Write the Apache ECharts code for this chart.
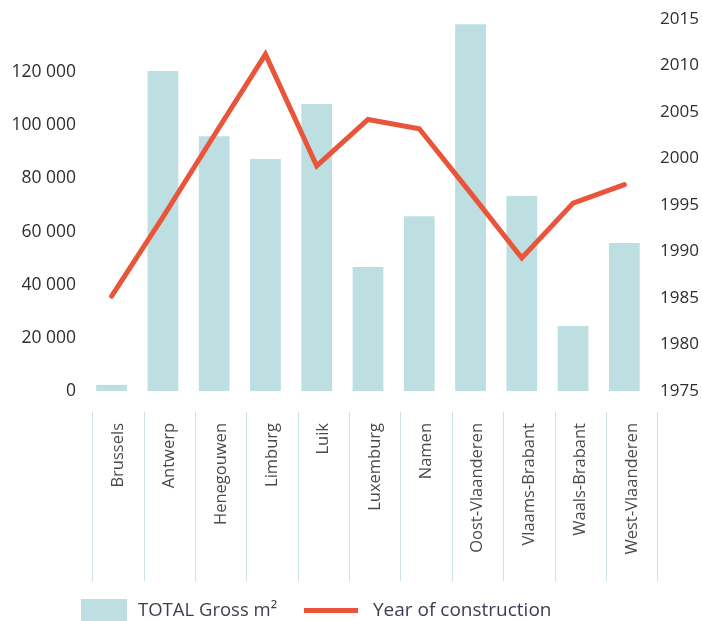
<!DOCTYPE html>
<html>
<head>
<meta charset="utf-8">
<script src="https://cdn.jsdelivr.net/npm/echarts@6/dist/echarts.min.js"></script>
<style>
html,body{margin:0;padding:0;background:#fff;}
#chart{width:702px;height:621px;}
</style>
</head>
<body>
<div id="chart"></div>
<script>
const categories = ['Brussels','Antwerp','Henegouwen','Limburg','Luik','Luxemburg','Namen','Oost-Vlaanderen','Vlaams-Brabant','Waals-Brabant','West-Vlaanderen'];
const grossM2 = [2300, 120400, 95900, 87300, 108000, 46700, 65800, 138000, 73400, 24500, 55700];
const yearOfConstruction = [1985.2, 1993.7, 2002.5, 2011.2, 1999.2, 2004.2, 2003.2, 1996.3, 1989.3, 1995.2, 1997.2];
const barName = 'TOTAL Gross m²';
const lineName = 'Year of construction';

const FONT = '"Open Sans", sans-serif';
const chart = echarts.init(document.getElementById('chart'), null, {renderer: 'canvas'});
chart.setOption({
  animation: false,
  grid: [
    {left: 86, right: 52, top: 19, bottom: 230, containLabel: false},
    {left: 92.5, right: 44.5, top: 400, bottom: 209, containLabel: false}
  ],
  legend: [
    {
      data: [barName], left: 81, top: 599, padding: 0,
      itemWidth: 46, itemHeight: 24, icon: 'rect',
      textStyle: {fontFamily: FONT, fontSize: 18.5, color: '#3b3f52', padding: [0,0,0,6]}
    },
    {
      data: [{name: lineName, icon: 'path://M0,0H54V5H0Z'}], left: 304, top: 601, padding: 0,
      itemWidth: 54, itemHeight: 24,
      textStyle: {fontFamily: FONT, fontSize: 19, color: '#3b3f52', padding: [0,0,0,10]}
    }
  ],
  xAxis: [
    {
      type: 'category', data: categories, boundaryGap: true, gridIndex: 0,
      axisLine: {show: false}, axisTick: {show: false}, axisLabel: {show: false}
    },
    {
      type: 'category', data: categories, boundaryGap: true, gridIndex: 1, position: 'bottom',
      axisLine: {show: false},
      axisTick: {show: true, interval: 0, length: 169, lineStyle: {color: '#c9e4e7', width: 1}},
      axisLabel: {interval: 0, rotate: 90, margin: 11, fontFamily: FONT, fontSize: 16.5, color: '#4a4a4a'}
    }
  ],
  yAxis: [
    {
      type: 'value', min: 0, max: 140000, interval: 20000, gridIndex: 0,
      axisLine: {show: false}, axisTick: {show: false}, splitLine: {show: false},
      axisLabel: {
        showMaxLabel: false, margin: 10, fontFamily: FONT, fontSize: 17.5, color: '#2e2e2e',
        formatter: v => String(v).replace(/\B(?=(\d{3})+(?!\d))/g, ' ')
      }
    },
    {
      type: 'value', min: 1975, max: 2015, interval: 5, position: 'right', gridIndex: 0,
      axisLine: {show: false}, axisTick: {show: false}, splitLine: {show: false},
      axisLabel: {margin: 10, fontFamily: FONT, fontSize: 17, color: '#2e2e2e', formatter: v => String(v)}
    },
    {
      type: 'value', gridIndex: 1, show: false
    }
  ],
  series: [
    {
      name: barName, type: 'bar', data: grossM2, xAxisIndex: 0, yAxisIndex: 0, barWidth: '60%',
      itemStyle: {color: '#bddfe1'}
    },
    {
      name: lineName, type: 'line', data: yearOfConstruction, xAxisIndex: 0, yAxisIndex: 1,
      symbol: 'none', showSymbol: false,
      lineStyle: {color: '#e9553a', width: 5, cap: 'round', join: 'miter'},
      itemStyle: {color: '#e9553a'}
    }
  ]
});
</script>
</body>
</html>
